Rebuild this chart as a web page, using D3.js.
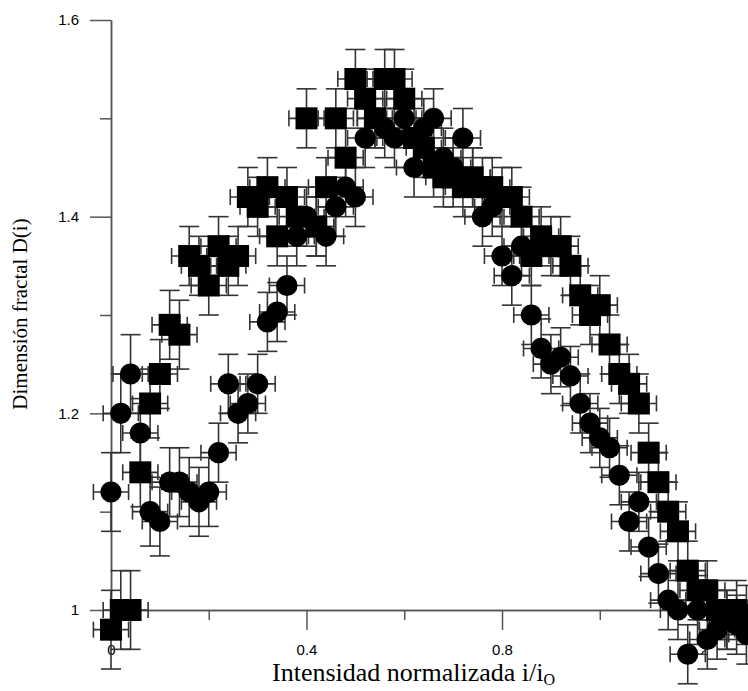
<!DOCTYPE html>
<html>
<head>
<meta charset="utf-8">
<script src="https://cdn.jsdelivr.net/npm/d3@7"></script>
<style>
  html, body { margin: 0; padding: 0; background: #fff; }
  svg { display: block; }
</style>
</head>
<body>
<div id="chart"></div>
<script>
// fractal dimension vs normalized intensity, two runs with error bars

const squareX = [0, 0.02, 0.04, 0.06, 0.08, 0.10, 0.12, 0.14, 0.16, 0.18, 0.20, 0.22, 0.24, 0.26, 0.28, 0.30,
  0.32, 0.34, 0.36, 0.38, 0.40, 0.42, 0.44, 0.46, 0.48, 0.50, 0.52, 0.54, 0.56, 0.58, 0.60, 0.62, 0.64,
  0.66, 0.68, 0.70, 0.72, 0.74, 0.76, 0.78, 0.80, 0.82, 0.84, 0.86, 0.88, 0.90, 0.92, 0.94, 0.96, 0.98,
  1.00, 1.02, 1.04, 1.06, 1.08, 1.10, 1.12, 1.14, 1.16, 1.18, 1.20, 1.22, 1.24, 1.26, 1.28, 1.30];
const squareY = [0.98, 1.00, 1.00, 1.14, 1.21, 1.24, 1.29, 1.28, 1.36, 1.35, 1.33, 1.37, 1.35, 1.36, 1.42, 1.41,
  1.43, 1.38, 1.42, 1.40, 1.50, 1.39, 1.43, 1.50, 1.46, 1.54, 1.52, 1.50, 1.54, 1.54, 1.52, 1.48, 1.47,
  1.45, 1.44, 1.44, 1.43, 1.44, 1.43, 1.43, 1.42, 1.42, 1.40, 1.36, 1.38, 1.37, 1.37, 1.35, 1.32, 1.30,
  1.31, 1.27, 1.24, 1.23, 1.21, 1.16, 1.13, 1.10, 1.08, 1.04, 1.02, 1.02, 1.00, 0.99, 1.00, 0.995];
const squareYErr = [0.04, 0.04, 0.04, 0.035, 0.035, 0.035, 0.035, 0.035, 0.03, 0.03, 0.03, 0.03, 0.03, 0.03, 0.03, 0.03,
  0.03, 0.03, 0.03, 0.03, 0.03, 0.03, 0.03, 0.03, 0.03, 0.03, 0.03, 0.03, 0.03, 0.03, 0.03, 0.03, 0.03,
  0.03, 0.03, 0.03, 0.03, 0.03, 0.03, 0.03, 0.03, 0.03, 0.03, 0.03, 0.03, 0.03, 0.03, 0.03, 0.03, 0.03,
  0.03, 0.03, 0.03, 0.03, 0.03, 0.03, 0.03, 0.03, 0.03, 0.03, 0.03, 0.03, 0.03, 0.03, 0.03, 0.03];

const circleX = [0, 0.02, 0.04, 0.06, 0.08, 0.10, 0.12, 0.14, 0.16, 0.18, 0.20, 0.22, 0.24, 0.26, 0.28, 0.30,
  0.32, 0.34, 0.36, 0.38, 0.40, 0.42, 0.44, 0.46, 0.48, 0.50, 0.52, 0.54, 0.56, 0.58, 0.60, 0.62, 0.64,
  0.66, 0.68, 0.70, 0.72, 0.74, 0.76, 0.78, 0.80, 0.82, 0.84, 0.86, 0.88, 0.90, 0.92, 0.94, 0.96, 0.98,
  1.00, 1.02, 1.04, 1.06, 1.08, 1.10, 1.12, 1.14, 1.16, 1.18, 1.20, 1.22, 1.24, 1.26, 1.28, 1.30];
const circleY = [1.12, 1.20, 1.24, 1.18, 1.10, 1.09, 1.13, 1.13, 1.12, 1.11, 1.12, 1.16, 1.23, 1.20, 1.21, 1.23,
  1.293, 1.303, 1.33, 1.38, 1.40, 1.39, 1.38, 1.41, 1.43, 1.42, 1.48, 1.50, 1.49, 1.48, 1.50, 1.45, 1.49,
  1.50, 1.46, 1.45, 1.48, 1.44, 1.40, 1.41, 1.36, 1.34, 1.37, 1.30, 1.266, 1.25, 1.257, 1.238, 1.21, 1.19,
  1.175, 1.165, 1.137, 1.09, 1.11, 1.064, 1.037, 1.01, 1.00, 0.955, 1.00, 0.97, 0.98, 0.99, 0.985, 0.975];
const circleYErr = [0.04, 0.04, 0.04, 0.035, 0.035, 0.035, 0.035, 0.035, 0.035, 0.035, 0.035, 0.03, 0.03, 0.03, 0.03, 0.03,
  0.03, 0.03, 0.03, 0.03, 0.03, 0.03, 0.03, 0.03, 0.03, 0.03, 0.03, 0.03, 0.03, 0.03, 0.03, 0.03, 0.03,
  0.03, 0.03, 0.03, 0.03, 0.03, 0.03, 0.03, 0.03, 0.03, 0.03, 0.03, 0.03, 0.03, 0.03, 0.03, 0.03, 0.03,
  0.03, 0.03, 0.03, 0.03, 0.03, 0.03, 0.03, 0.03, 0.03, 0.03, 0.035, 0.03, 0.03, 0.03, 0.03, 0.03];

const X_ERR = 0.036;

const xMajorTicks = [0, 0.4, 0.8, 1.2];
const xMinorTicks = [0.2, 0.6, 1.0];
const yMajorTicks = [1, 1.2, 1.4, 1.6];
const yMinorTicks = [1.1, 1.3, 1.5];

const width = 748;
const height = 691;
const SQUARE = 22;
const RADIUS = 10.6;
const CAP = 10;
const BAR_COLOR = '#333';
const AXIS_COLOR = '#555';

const svg = d3.select('#chart').append('svg')
  .attr('width', width)
  .attr('height', height);

const x = d3.scaleLinear().domain([0, 1.3]).range([111, 746.4]);
const y = d3.scaleLinear().domain([1.0, 1.6]).range([610, 20]);

const fmt = d3.format('~g');

// axes first, the markers sit on top of them
const yAxisG = svg.append('g').attr('transform', `translate(${x(0)},0)`);
yAxisG.call(d3.axisLeft(y).tickValues(yMajorTicks).tickSize(21).tickSizeOuter(0).tickPadding(11).tickFormat(fmt));
const yMinorG = svg.append('g').attr('transform', `translate(${x(0)},0)`);
yMinorG.call(d3.axisLeft(y).tickValues(yMinorTicks).tickSize(11).tickSizeOuter(0).tickFormat(''));

const xAxisG = svg.append('g').attr('transform', `translate(0,${y(1)})`);
xAxisG.call(d3.axisBottom(x).tickValues(xMajorTicks).tickSize(20).tickSizeOuter(0).tickPadding(14).tickFormat(fmt));
const xMinorG = svg.append('g').attr('transform', `translate(0,${y(1)})`);
xMinorG.call(d3.axisBottom(x).tickValues(xMinorTicks).tickSize(10).tickSizeOuter(0).tickFormat(''));

[yAxisG, yMinorG, xAxisG, xMinorG].forEach((axis) => {
  axis.selectAll('path,line').attr('stroke', AXIS_COLOR).attr('stroke-width', 1.5);
  axis.selectAll('text')
    .attr('fill', '#000')
    .style('font-family', '"Liberation Sans", Arial, sans-serif')
    .style('font-size', '15px');
});

// axis titles
svg.append('text')
  .attr('transform', 'translate(27,314) rotate(-90)')
  .attr('text-anchor', 'middle')
  .style('font-family', '"Liberation Serif", "Times New Roman", serif')
  .style('font-size', '21px')
  .text('Dimensión fractal D(i)');

const xTitle = svg.append('text')
  .attr('x', 272)
  .attr('y', 681)
  .style('font-family', '"Liberation Serif", "Times New Roman", serif')
  .style('font-size', '26px');
xTitle.append('tspan').text('Intensidad normalizada i/i');
xTitle.append('tspan').attr('dy', 4).style('font-size', '16px').text('O');

function buildPoints(xs, ys, errs) {
  return xs.map((d, i) => ({ x: d, y: ys[i], ey: errs[i], ex: X_ERR }));
}

const squares = buildPoints(squareX, squareY, squareYErr);
const circles = buildPoints(circleX, circleY, circleYErr);

function drawErrorBars(data) {
  const layer = svg.append('g')
    .attr('stroke', BAR_COLOR).attr('stroke-width', 1.6).attr('fill', 'none');
  const g = layer.selectAll('g').data(data).enter().append('g');
  // vertical bar + caps
  g.append('line')
    .attr('x1', (d) => x(d.x)).attr('x2', (d) => x(d.x))
    .attr('y1', (d) => y(d.y - d.ey)).attr('y2', (d) => y(d.y + d.ey));
  g.append('line')
    .attr('x1', (d) => x(d.x) - CAP).attr('x2', (d) => x(d.x) + CAP)
    .attr('y1', (d) => y(d.y + d.ey)).attr('y2', (d) => y(d.y + d.ey));
  g.append('line')
    .attr('x1', (d) => x(d.x) - CAP).attr('x2', (d) => x(d.x) + CAP)
    .attr('y1', (d) => y(d.y - d.ey)).attr('y2', (d) => y(d.y - d.ey));
  // horizontal bar + caps
  g.append('line')
    .attr('x1', (d) => x(d.x - d.ex)).attr('x2', (d) => x(d.x + d.ex))
    .attr('y1', (d) => y(d.y)).attr('y2', (d) => y(d.y));
  g.append('line')
    .attr('x1', (d) => x(d.x - d.ex)).attr('x2', (d) => x(d.x - d.ex))
    .attr('y1', (d) => y(d.y) - 8).attr('y2', (d) => y(d.y) + 8);
  g.append('line')
    .attr('x1', (d) => x(d.x + d.ex)).attr('x2', (d) => x(d.x + d.ex))
    .attr('y1', (d) => y(d.y) - 8).attr('y2', (d) => y(d.y) + 8);
}

drawErrorBars(squares);
drawErrorBars(circles);

svg.append('g').selectAll('rect').data(squares).enter().append('rect')
  .attr('x', (d) => x(d.x) - SQUARE / 2)
  .attr('y', (d) => y(d.y) - SQUARE / 2)
  .attr('width', SQUARE)
  .attr('height', SQUARE)
  .attr('fill', '#000');

svg.append('g').selectAll('circle').data(circles).enter().append('circle')
  .attr('cx', (d) => x(d.x))
  .attr('cy', (d) => y(d.y))
  .attr('r', RADIUS)
  .attr('fill', '#000');
</script>
</body>
</html>
